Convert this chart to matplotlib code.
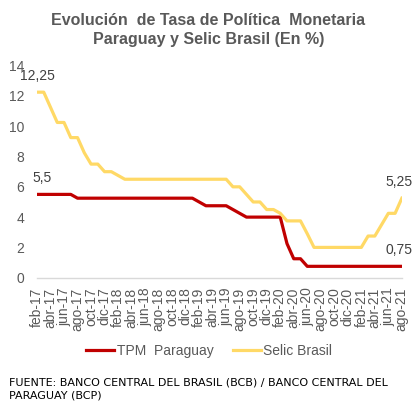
""" Evolucion de Tasa de Politica Monetaria - Paraguay y Selic Brasil """

import matplotlib
matplotlib.use("Agg")
import matplotlib.pyplot as plt

plt.rcParams['font.family'] = ['Liberation Sans', 'DejaVu Sans']

""" Data (monthly, feb-17 to ago-21) """
meses = ['ene', 'feb', 'mar', 'abr', 'may', 'jun', 'jul', 'ago', 'sep', 'oct', 'nov', 'dic']
periodos = [f"{meses[m]}-{a:02d}" for a in range(17, 22) for m in range(12)][1:56]

tpm_paraguay = [5.5, 5.5, 5.5, 5.5, 5.5, 5.5, 5.25, 5.25, 5.25, 5.25, 5.25,          # 2017
                5.25, 5.25, 5.25, 5.25, 5.25, 5.25, 5.25, 5.25, 5.25, 5.25, 5.25, 5.25,  # 2018
                5.25, 5.0, 4.75, 4.75, 4.75, 4.75, 4.5, 4.25, 4.0, 4.0, 4.0, 4.0,  # 2019
                4.0, 4.0, 2.25, 1.25, 1.25, 0.75, 0.75, 0.75, 0.75, 0.75, 0.75, 0.75,  # 2020
                0.75, 0.75, 0.75, 0.75, 0.75, 0.75, 0.75, 0.75]  # 2021

selic_brasil = [12.25, 12.25, 11.25, 10.25, 10.25, 9.25, 9.25, 8.25, 7.5, 7.5, 7.0,  # 2017
                7.0, 6.75, 6.5, 6.5, 6.5, 6.5, 6.5, 6.5, 6.5, 6.5, 6.5, 6.5,  # 2018
                6.5, 6.5, 6.5, 6.5, 6.5, 6.5, 6.0, 6.0, 5.5, 5.0, 5.0, 4.5,  # 2019
                4.5, 4.25, 3.75, 3.75, 3.75, 2.9, 2.0, 2.0, 2.0, 2.0, 2.0, 2.0,  # 2020
                2.0, 2.0, 2.75, 2.75, 3.5, 4.25, 4.25, 5.25]  # 2021

etiquetas_tpm = {0: '5,5', 54: '0,75'}
etiquetas_selic = {0: '12,25', 54: '5,25'}

gris = '#595959'
rojo = '#C00000'
amarillo = '#FFD966'

fig = plt.figure(figsize=(4.17, 4.12), dpi=100)
ax = fig.add_axes([0.0887, 0.326, 0.875, 0.5146])

x = list(range(len(periodos)))
ax.plot(x, tpm_paraguay, color=rojo, linewidth=2.3, label='TPM  Paraguay', solid_joinstyle='round')
ax.plot(x, selic_brasil, color=amarillo, linewidth=2.3, label='Selic Brasil', solid_joinstyle='round')

# data labels at start and end
for i, txt in etiquetas_tpm.items():
    ax.annotate(txt, (i, tpm_paraguay[i]), xytext=(4 if i == 0 else -2, 12), textcoords='offset points',
                ha='center', va='center', fontsize=10, color='#404040')
for i, txt in etiquetas_selic.items():
    ax.annotate(txt, (i, selic_brasil[i]), xytext=(0 if i == 0 else -2, 12), textcoords='offset points',
                ha='center', va='center', fontsize=10, color='#404040')

ax.set_xlim(0, len(periodos) - 1)
ax.set_ylim(0, 14)
ax.set_yticks(range(0, 15, 2))
ax.set_xticks(x[::2])
ax.set_xticklabels(periodos[::2], rotation=90)
ax.tick_params(axis='x', length=0, pad=7, labelsize=10, labelcolor=gris)
ax.tick_params(axis='y', length=0, pad=9, labelsize=10, labelcolor=gris)

for lado in ['top', 'right', 'left']:
    ax.spines[lado].set_visible(False)
ax.spines['bottom'].set_color('#D9D9D9')
ax.spines['bottom'].set_linewidth(1)

fig.text(0.5, 0.927, "Evolución  de Tasa de Política  Monetaria\nParaguay y Selic Brasil (En %)",
         ha='center', va='center', fontsize=11.5, fontweight='bold', color=gris, linespacing=1.4)

fig.legend(loc='center', bbox_to_anchor=(0.502, 0.148), ncol=2, frameon=False, fontsize=10,
           handlelength=2.0, handletextpad=0.2, columnspacing=1.4, labelcolor=gris)

fig.text(0.022, 0.055, "FUENTE: BANCO CENTRAL DEL BRASIL (BCB) / BANCO CENTRAL DEL\nPARAGUAY (BCP)",
         ha='left', va='center', fontsize=8, color='black', linespacing=1.35,
         family=['Liberation Sans Narrow', 'DejaVu Sans'])

fig.savefig('out.png', dpi=100)
